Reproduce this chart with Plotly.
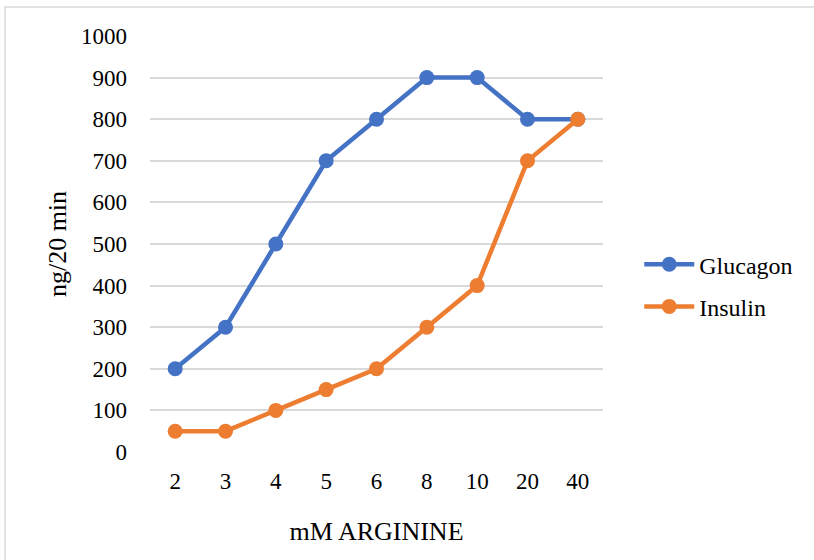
import plotly.graph_objects as go

categories = ["2", "3", "4", "5", "6", "8", "10", "20", "40"]
glucagon = [200, 300, 500, 700, 800, 900, 900, 800, 800]
insulin = [50, 50, 100, 150, 200, 300, 400, 700, 800]
y_ticks = list(range(0, 1001, 100))

FONT = "Liberation Serif"

fig = go.Figure()
fig.add_trace(go.Scatter(x=categories, y=glucagon, name="Glucagon", mode="lines+markers", legendgroup="g",
                         line=dict(color="#4472C4", width=4.5), marker=dict(size=15, color="#4472C4")))
fig.add_trace(go.Scatter(x=categories, y=insulin, name="Insulin", mode="lines+markers", legendgroup="i",
                         line=dict(color="#ED7D31", width=4.5), marker=dict(size=15, color="#ED7D31")))

fig.update_layout(
    width=814, height=560,
    margin=dict(l=150, r=211, t=36, b=108),
    paper_bgcolor="white", plot_bgcolor="white",
    font=dict(family=FONT, size=23, color="black"),
    showlegend=True,
    legend=dict(x=1.08, y=0.40, xanchor="left", yanchor="middle",
                font=dict(family=FONT, size=24), tracegroupgap=8, itemwidth=50),
    xaxis=dict(type="category", range=[-0.5, 8.5], showgrid=False, zeroline=False,
               showline=False, ticks="", ticklabelstandoff=13,
               title=dict(text="mM ARGININE", font=dict(family=FONT, size=26), standoff=28)),
    yaxis=dict(range=[0, 1000], tickvals=y_ticks, showgrid=True, gridcolor="#D9D9D9", gridwidth=1.5,
               zeroline=False, showline=False, ticks="", ticklabelstandoff=22,
               title=dict(text="ng/20 min", font=dict(family=FONT, size=26), standoff=6)),
    shapes=[dict(type="rect", xref="paper", yref="paper", x0=-0.320, y0=-2, x1=3, y1=1.0697,
                 line=dict(color="#D9D9D9", width=1.5), fillcolor="rgba(0,0,0,0)", layer="below")],
)

fig.write_html("out.html")
